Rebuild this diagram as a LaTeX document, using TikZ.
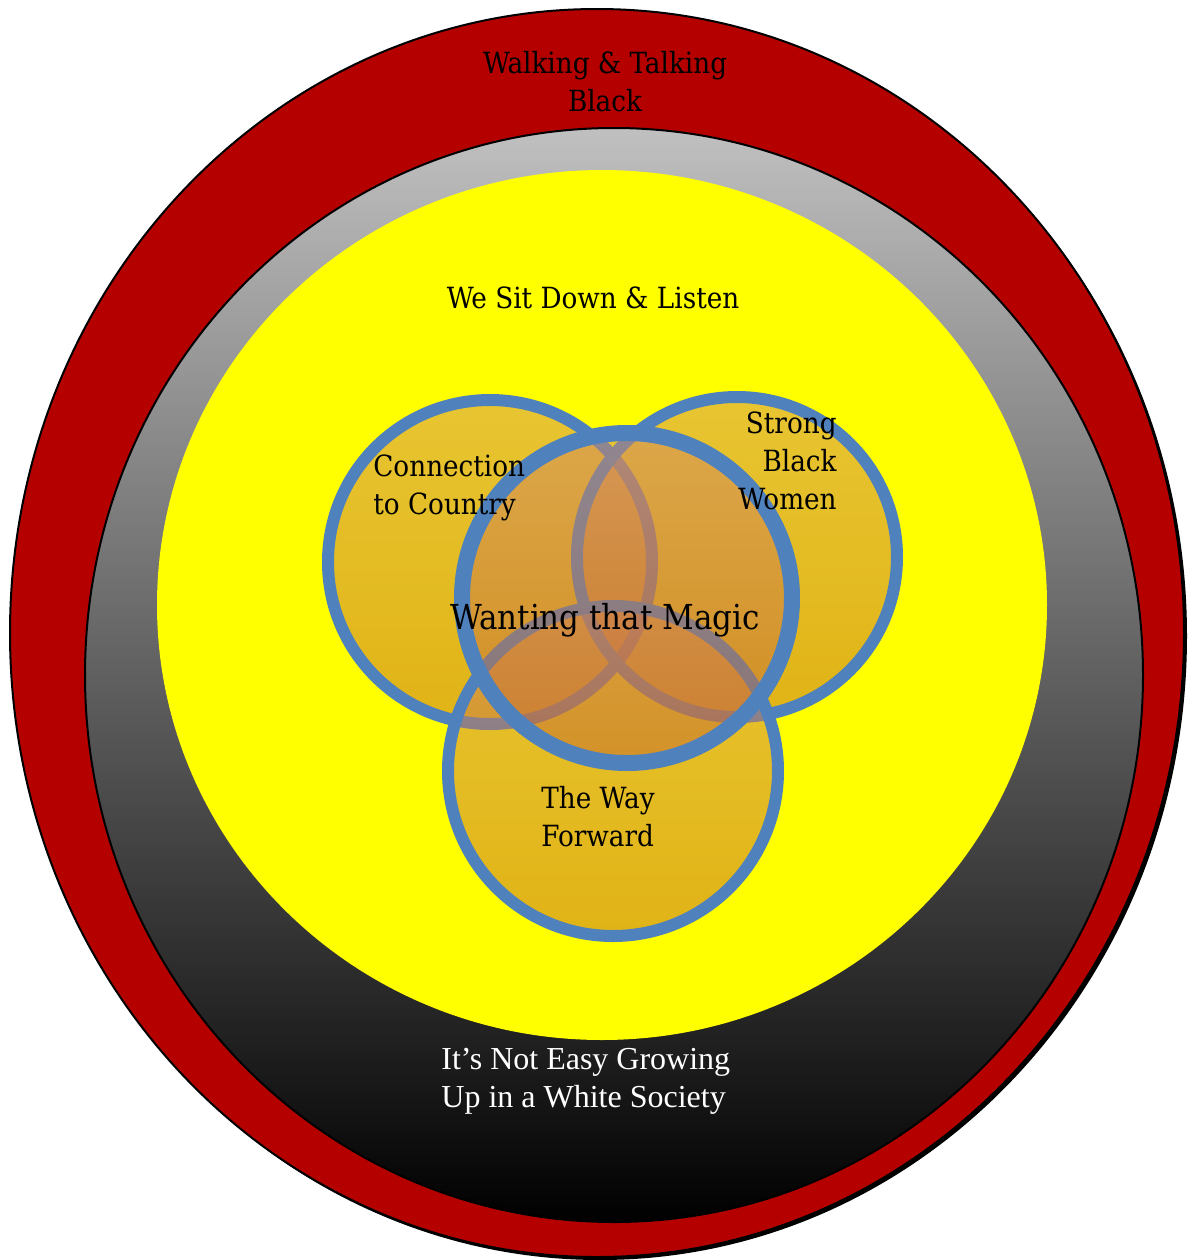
\documentclass[tikz,border=0pt]{standalone}
\usepackage{fontspec}
\setmainfont{DejaVu Serif Condensed}
\newfontfamily\timesfont{Liberation Serif}
\usetikzlibrary{shapes.geometric}

\definecolor{ringred}{RGB}{181,0,0}
\definecolor{ringgray}{RGB}{192,192,192}
\definecolor{ringyellow}{RGB}{255,255,0}
\definecolor{vennblue}{RGB}{79,129,189}
\definecolor{venntop}{RGB}{210,140,100}
\definecolor{vennbot}{RGB}{195,105,45}

\begin{document}
\begin{tikzpicture}[x=0.5pt, y=-0.5pt,
  ring/.style={ellipse, inner sep=0pt},
  venn/.style={circle, inner sep=0pt, draw=vennblue, line width=6pt, top color=venntop, bottom color=vennbot, fill opacity=0.5},
  lbl/.style={font=\fontsize{14.6}{19}\selectfont, inner sep=0pt}]
\useasboundingbox (0,0) rectangle (1190,1260);
% rings
\node[ring, fill=black, minimum width=587pt, minimum height=624pt] (O0) at (600,636) {};
\node[ring, fill=ringred, draw=black, line width=1pt, minimum width=587pt, minimum height=624pt] (O1) at (597,633) {};
\node[ring, draw=black, line width=1pt, top color=ringgray, bottom color=black, minimum width=529pt, minimum height=547pt] (O2) at (614,675) {};
\node[ring, fill=ringyellow, minimum width=445pt, minimum height=435pt] (O3) at (602,605) {};
% venn circles
\node[venn, minimum size=162pt] (C1) at (490,562) {};
\node[venn, minimum size=160pt] (C2) at (737,557) {};
\node[venn, minimum size=165pt] (C3) at (613,771) {};
\node[venn, line width=8pt, minimum size=165pt] (C4) at (627,598) {};
% labels
\node[lbl, align=center] (T1) at (605,82) {Walking \& Talking\\Black};
\node[lbl] (T2) at (593,298) {We Sit Down \& Listen};
\node[lbl, align=left, anchor=west] (T3) at (373,488) {Connection\\to Country};
\node[lbl, align=right, anchor=east] (T4) at (837,461) {Strong\\Black\\Women};
\node[lbl, font=\fontsize{17.2}{22}\selectfont] (T5) at (605,620) {Wanting that Magic};
\node[lbl, align=left, anchor=west] (T6) at (541,817) {The Way\\Forward};
\node[lbl, align=left, anchor=west, text=white, font=\timesfont\fontsize{16}{19}\selectfont] (T7) at (441,1081) {It’s Not Easy Growing\\Up in a White Society};
\end{tikzpicture}
\end{document}
